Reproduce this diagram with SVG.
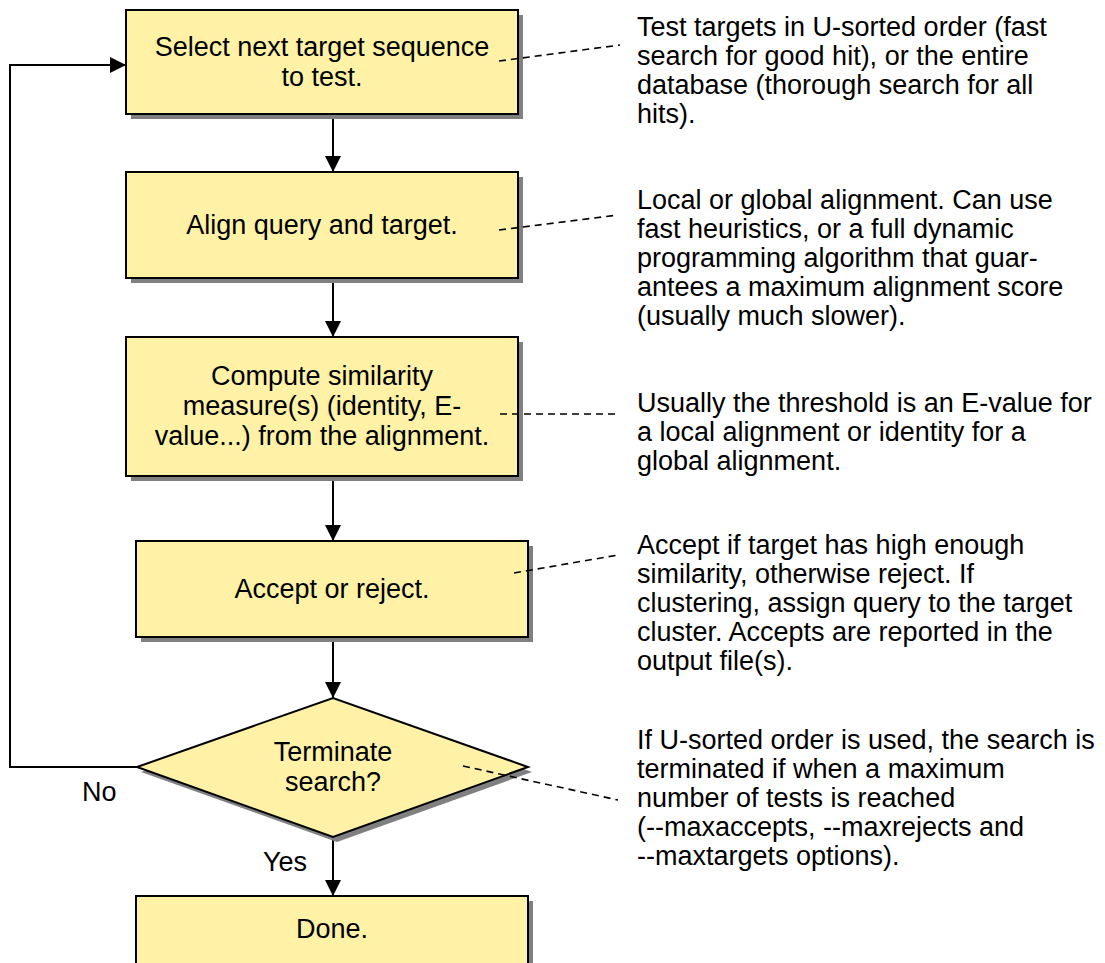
<svg xmlns="http://www.w3.org/2000/svg" width="1105" height="963" viewBox="0 0 1105 963">
<style>
.box{fill:#FFF2A6;stroke:#000;stroke-width:2}
.sh{fill:#808080}
.t{font-family:"Liberation Sans",Arial,sans-serif;font-size:27px;fill:#000}
.c{text-anchor:middle}
.ln{fill:none;stroke:#000;stroke-width:2}
.ar{marker-end:url(#ah)}
.dash{fill:none;stroke:#000;stroke-width:1.6;stroke-dasharray:7 5}
</style>
<defs>
<marker id="ah" viewBox="0 0 16 16" refX="16" refY="8" markerWidth="16" markerHeight="16" markerUnits="userSpaceOnUse" orient="auto">
<path d="M0,0 L16,8 L0,16 z" fill="#000"/>
</marker>
</defs>
<rect width="1105" height="963" fill="#fff"/>

<g id="connectors">
<line class="ln ar" x1="333" y1="114" x2="333" y2="172"/>
<line class="ln ar" x1="333" y1="278" x2="333" y2="337"/>
<line class="ln ar" x1="333" y1="476" x2="333" y2="541"/>
<line class="ln ar" x1="333" y1="637" x2="333" y2="698"/>
<line class="ln ar" x1="333" y1="837" x2="333" y2="896"/>
<polyline class="ln ar" points="137,767 10,767 10,65 126,65"/>
<text class="t" x="82" y="801">No</text>
<text class="t" x="263" y="871">Yes</text>
</g>

<g id="node-select">
<rect class="sh" x="131" y="15" width="392" height="104"/>
<rect class="box" x="126" y="10" width="392" height="104"/>
<text class="t c" x="322" y="56">Select next target sequence</text>
<text class="t c" x="322" y="86">to test.</text>
</g>

<g id="node-align">
<rect class="sh" x="131" y="177" width="392" height="106"/>
<rect class="box" x="126" y="172" width="392" height="106"/>
<text class="t c" x="322" y="234">Align query and target.</text>
</g>

<g id="node-compute">
<rect class="sh" x="131" y="342" width="392" height="139"/>
<rect class="box" x="126" y="337" width="392" height="139"/>
<text class="t c" x="322" y="385">Compute similarity</text>
<text class="t c" x="322" y="415">measure(s) (identity, E-</text>
<text class="t c" x="322" y="445">value...) from the alignment.</text>
</g>

<g id="node-accept">
<rect class="sh" x="141" y="546" width="392" height="96"/>
<rect class="box" x="136" y="541" width="392" height="96"/>
<text class="t c" x="332" y="598">Accept or reject.</text>
</g>

<g id="node-terminate">
<polygon class="sh" points="141,772 337,703 532,772 337,842"/>
<polygon class="box" points="137,767 333,698 528,767 333,837"/>
<text class="t c" x="333" y="761">Terminate</text>
<text class="t c" x="333" y="791">search?</text>
</g>

<g id="node-done">
<rect class="sh" x="141" y="901" width="392" height="100"/>
<rect class="box" x="136" y="896" width="392" height="100"/>
<text class="t c" x="332" y="938">Done.</text>
</g>

<g id="leaders">
<line class="dash" x1="499" y1="61" x2="620" y2="45"/>
<line class="dash" x1="499" y1="230" x2="618" y2="215"/>
<line class="dash" x1="500" y1="414" x2="618" y2="414"/>
<line class="dash" x1="514" y1="573" x2="618" y2="555"/>
<line class="dash" x1="463" y1="766" x2="618" y2="800"/>
</g>

<g id="note-select">
<text class="t" x="637" y="36">Test targets in U-sorted order (fast</text>
<text class="t" x="637" y="65">search for good hit), or the entire</text>
<text class="t" x="637" y="94">database (thorough search for all</text>
<text class="t" x="637" y="123">hits).</text>
</g>

<g id="note-align">
<text class="t" x="637" y="209">Local or global alignment. Can use</text>
<text class="t" x="637" y="238">fast heuristics, or a full dynamic</text>
<text class="t" x="637" y="267">programming algorithm that guar-</text>
<text class="t" x="637" y="296">antees a maximum alignment score</text>
<text class="t" x="637" y="325">(usually much slower).</text>
</g>

<g id="note-compute">
<text class="t" x="637" y="412">Usually the threshold is an E-value for</text>
<text class="t" x="637" y="441">a local alignment or identity for a</text>
<text class="t" x="637" y="470">global alignment.</text>
</g>

<g id="note-accept">
<text class="t" x="637" y="554">Accept if target has high enough</text>
<text class="t" x="637" y="583">similarity, otherwise reject. If</text>
<text class="t" x="637" y="612">clustering, assign query to the target</text>
<text class="t" x="637" y="641">cluster. Accepts are reported in the</text>
<text class="t" x="637" y="670">output file(s).</text>
</g>

<g id="note-terminate">
<text class="t" x="637" y="749">If U-sorted order is used, the search is</text>
<text class="t" x="637" y="778">terminated if when a maximum</text>
<text class="t" x="637" y="807">number of tests is reached</text>
<text class="t" x="637" y="836">(--maxaccepts, --maxrejects and</text>
<text class="t" x="637" y="865">--maxtargets options).</text>
</g>
</svg>
